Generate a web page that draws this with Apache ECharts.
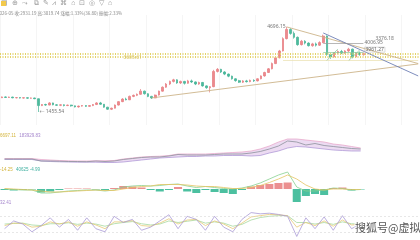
<!DOCTYPE html>
<html><head><meta charset="utf-8">
<script src="https://cdn.jsdelivr.net/npm/echarts@6/dist/echarts.min.js"></script>
<style>html,body{margin:0;padding:0;background:#fff;overflow:hidden}#c{width:420px;height:240px}</style>
</head><body><div id="c"></div>
<script>
// ---------- data ----------
const periods = Array.from({length: 115}, (_, i) => 'P' + (i + 1));
// [open, close, low, high]
const ohlc = [
[2000,2030,1985,2045],[2030,2010,1995,2050],[2010,2025,1990,2040],[2025,1995,1980,2035],[1995,2005,1975,2020],
[2005,1985,1970,2015],[1985,2000,1965,2010],[2000,1980,1960,2010],[1980,1990,1960,2005],[1990,1960,1945,2000],
[1960,1700,1455.54,1970],[1700,1740,1680,1760],[1740,1720,1690,1770],[1720,1800,1710,1830],[1800,1730,1710,1810],
[1730,1710,1690,1750],[1710,1730,1680,1750],[1730,1700,1670,1745],[1700,1720,1680,1735],[1720,1690,1660,1730],
[1690,1650,1630,1700],[1650,1680,1620,1700],[1680,1700,1660,1720],[1700,1670,1650,1715],[1670,1700,1650,1720],
[1700,1740,1680,1760],[1740,1800,1720,1830],[1800,1750,1730,1840],[1750,1640,1620,1760],[1640,1560,1540,1650],
[1560,1600,1530,1620],[1600,1720,1590,1740],[1720,1850,1700,1870],[1850,1950,1830,1980],[1950,1920,1900,2000],
[1920,2050,1910,2080],[2050,2090,2020,2120],[2090,2130,2060,2160],[2130,2250,2110,2330],[2250,2150,2120,2270],
[2150,2050,2020,2170],[2050,1990,1950,2070],[1990,2100,1980,2120],[2100,2250,2080,2270],[2250,2400,2230,2430],
[2400,2520,2380,2560],[2520,2620,2480,2650],[2620,2680,2580,2720],[2680,2560,2530,2700],[2560,2620,2520,2650],
[2620,2550,2500,2640],[2550,2640,2530,2680],[2640,2600,2560,2690],[2600,2520,2480,2620],[2520,2580,2490,2610],
[2580,2450,2420,2600],[2450,2380,2340,2470],[2380,2420,2200,2440],[2420,3000,2400,3060],[3000,3080,2960,3130],
[3080,2980,2940,3100],[2980,2900,2860,3010],[2900,2820,2780,2920],[2820,2720,2690,2840],[2720,2650,2610,2740],
[2650,2590,2560,2680],[2590,2640,2560,2670],[2640,2610,2580,2680],[2610,2660,2590,2690],[2660,2640,2600,2700],
[2640,2720,2620,2740],[2720,2830,2700,2850],[2830,2960,2800,2990],[2960,3100,2940,3130],[3100,3300,3080,3340],
[3300,3520,3280,3560],[3520,3780,3500,3820],[3780,4250,3760,4300],[4250,4600,4220,4696.15],[4600,4450,4400,4650],
[4450,4300,4250,4520],[4300,4020,3980,4330],[4020,4150,3990,4200],[4150,4080,4030,4190],[4080,3980,3950,4110],
[3980,4050,3940,4090],[4050,4000,3950,4100],[4000,4100,3970,4150],[4100,4350,4080,4400],[4350,3650,3600,4370],
[3650,3550,3480,3700],[3550,3700,3520,3740],[3700,3760,3650,3800],[3760,3700,3660,3820],[3700,3780,3670,3810],
[3780,3850,3740,3900],[3850,3550,3500,3870],[3550,3700,3520,3740],[3700,3640,3600,3760],[3640,3680,3600,3720]
];
const subPeriods = Array.from({length: 46}, (_, i) => 'S' + (i + 1));
const obvLine  = [7,7,7,7,5,5,4.8,4.5,4.5,4.3,5,4.5,5,6.5,7.5,8.5,9,9,10,11.5,11,11,11,11.5,12,12,12,13,14.5,17,20,25,24,21,22.5,20.5,19.5,18.5,17.5,17];
const obvUpper = [7.5,7.5,7.5,7.5,6.5,6,5.5,5.2,5,5,5.2,5.2,5.5,7,8,9,9.5,9.8,10.5,12,12,12,12,12.5,13,13.5,14,15,17,20,24,27,27,26,25,24,22,21,19.5,18];
const obvLower = [6.5,6.5,6.5,6.5,5,4.5,4.2,4,3.8,3.8,3.8,3.5,3.5,4,5,6,7,8,8.5,9,9.5,9.5,10,10,10.5,10.5,10.5,10,10.5,13,15,18,19.5,19,18,17,16,15.5,15,15];
const macdDif  = [0,-0.5,-1,-1,-4,-4,-3,-2,-1.5,-1,-1,-2,-1,2,3,3.5,3,3.5,4.5,5,3,1.5,2.5,1.5,0.5,0,1,3,6,10,14,17,2,-2,-2,-1,1,0.5,-1,-0.5];
const macdDea  = [0.5,0,-0.5,-1,-2,-3,-3,-2.5,-2,-1.5,-1,-1.5,-1.5,0,1.5,2.5,3,4.5,4.5,4.5,4,3,2.5,2.5,1.5,0.5,0.5,1.5,3.5,6.5,10,14,10,4,0,-1,0,0,-0.5,-0.5];
const macdHist = [-1,-1.5,-1,-0.5,-3.5,-2.5,-1,0.5,0.5,0.5,-0.5,-1,1,3,2.5,1.5,-1,-2.5,-1,2,-2.5,-4,-1,-3,-4,-5,-1,2.5,4,5,6,6.5,-13,-7,-5,-6,1,1.5,-1.5,-0.5];
const kdjK = [30,55,45,20,40,65,35,60,25,65,30,20,70,50,60,25,35,55,75,30,70,60,25,70,35,20,60,82,78,80,76,70,5,65,30,68,25,72,30,45];
const kdjD = [40,48,47,35,38,52,45,52,38,52,42,30,52,52,56,40,38,48,62,45,58,60,40,55,45,30,48,68,72,76,75,72,35,50,40,55,38,58,42,44];
const kdjJ = [45,47,48,42,40,46,46,49,44,48,45,38,46,50,53,46,42,45,55,50,54,58,48,52,48,38,44,58,66,70,72,72,50,50,45,50,44,52,46,45];

// ---------- chart ----------
const chart = echarts.init(document.getElementById('c'), null, {renderer: 'canvas'});
const bandDiff = obvUpper.map((u, i) => +(u - obvLower[i]).toFixed(2));
const tan = '#cdb48a', blue = '#6f80b6', txt = '#777';
const lbl = (text, pos) => ({show: true, position: pos, formatter: text, fontSize: 5, color: txt, distance: 1});

const subAxis = (gi) => ({type: 'category', gridIndex: gi, data: subPeriods, boundaryGap: true, show: false});
const option = {
  animation: false,
  backgroundColor: '#fff',
  textStyle: {fontFamily: 'Noto Sans, Noto Sans CJK SC, sans-serif'},
  grid: [
    {left: 0, right: 0, top: 15, height: 110},
    {left: 0, right: 0, top: 138, height: 28},
    {left: 0, right: 0, top: 168, height: 37},
    {left: 0, right: 0, top: 207, height: 31}
  ],
  xAxis: [
    {type: 'category', gridIndex: 0, data: periods, boundaryGap: true,
     axisLine: {show: false}, axisTick: {show: false}, axisLabel: {show: false},
     splitLine: {show: true, interval: 9, lineStyle: {color: '#f3f3f3', width: 0.8}}},
    subAxis(1), subAxis(2), subAxis(3)
  ],
  yAxis: [
    {type: 'value', gridIndex: 0, min: 960, max: 5150, show: true,
     axisLine: {show: false}, axisTick: {show: false}, axisLabel: {show: false},
     splitLine: {show: false}},
    {type: 'value', gridIndex: 1, min: 0, max: 28, show: false},
    {type: 'value', gridIndex: 2, min: -16, max: 21, show: false},
    {type: 'value', gridIndex: 3, min: 0, max: 100, show: false}
  ],
  series: [
    {type: 'candlestick', xAxisIndex: 0, yAxisIndex: 0, data: ohlc, barWidth: '58%',
     itemStyle: {color: '#ec8a8d', color0: '#4dba9d', borderColor: '#e67a7e', borderColor0: '#41b194', borderWidth: 0.7},
     markLine: {symbol: 'none', silent: true, animation: false,
       label: {show: false},
       data: [
         {yAxis: 3680, lineStyle: {color: '#e4d36c', width: 2, type: [1, 1.5]}},
         {yAxis: 3560, lineStyle: {color: '#e4d36c', width: 2, type: [1, 1.5]}},
         [{coord: [periods[77], 3420], lineStyle: {color: '#e9dfae', width: 0.7, type: 'solid'}}, {coord: [periods[114], 3420]}],
         [{coord: [periods[41], 1991], lineStyle: {color: tan, width: 0.9, type: 'solid'}}, {coord: [periods[114], 3286]}],
         [{coord: [periods[78], 4696.15], lineStyle: {color: tan, width: 0.9, type: 'solid'}}, {coord: [periods[114], 3300]}],
         [{coord: [periods[88], 4467], lineStyle: {color: blue, width: 0.9, type: 'solid'}}, {coord: [periods[114], 2829]}],
         [{coord: [periods[88], 4087], lineStyle: {color: '#999', width: 0.7, type: 'solid'}}, {coord: [periods[99], 4087]}],
         [{coord: [periods[88], 3744], lineStyle: {color: '#8cc99a', width: 0.7, type: 'solid'}}, {coord: [periods[99], 3744]}],
         [{coord: [periods[89], 3420], lineStyle: {color: '#7fc08f', width: 0.7, type: 'solid'}}, {coord: [periods[92], 3850]}],
         [{coord: [periods[95], 3420], lineStyle: {color: '#7fc08f', width: 0.7, type: 'solid'}}, {coord: [periods[98], 3820]}]
       ]},
     markPoint: {symbol: 'circle', symbolSize: 0.1, silent: true, animation: false,
       data: [
         {coord: [periods[78], 4696.15], label: lbl('4696.15', 'left')},
         {coord: [periods[10], 1455.54], label: lbl('← 1455.54', 'right')},
         {coord: [periods[102], 4240], label: lbl('3376.18', 'right')},
         {coord: [periods[99], 4090], label: lbl('4006.95', 'right')},
         {coord: [periods[99], 3830], label: {show: true, position: 'right', formatter: '3961.27', fontSize: 5, color: '#666', borderColor: '#bbb', borderWidth: 0.5, padding: [0, 1], distance: 1}},
         {coord: [periods[33], 3530], label: {show: true, position: 'right', formatter: '3605.61', fontSize: 5, color: '#d8c25a', distance: 1}}
       ]}
    },
    // OBV panel
    {type: 'line', xAxisIndex: 1, yAxisIndex: 1, data: obvLower, stack: 'band', symbol: 'none',
     lineStyle: {color: '#a88fd2', width: 0.7}, areaStyle: {opacity: 0}},
    {type: 'line', xAxisIndex: 1, yAxisIndex: 1, data: bandDiff, stack: 'band', symbol: 'none',
     lineStyle: {color: '#e6a2c6', width: 0.7}, areaStyle: {color: '#ead7f1', opacity: 0.9}},
    {type: 'line', xAxisIndex: 1, yAxisIndex: 1, data: obvLine, symbol: 'none',
     lineStyle: {color: '#8d929c', width: 0.8}},
    // MACD panel
    {type: 'bar', xAxisIndex: 2, yAxisIndex: 2, data: macdHist, barWidth: '88%',
     itemStyle: {color: p => p.value >= 0 ? '#eb9090' : '#4cc0a0'}},
    {type: 'line', xAxisIndex: 2, yAxisIndex: 2, data: macdDif, symbol: 'none', lineStyle: {color: '#86d18f', width: 0.8}},
    {type: 'line', xAxisIndex: 2, yAxisIndex: 2, data: macdDea, symbol: 'none', lineStyle: {color: '#e5c462', width: 0.8}},
    // KDJ panel
    {type: 'line', xAxisIndex: 3, yAxisIndex: 3, data: kdjJ, symbol: 'none', lineStyle: {color: '#a6d9a0', width: 0.8},
     markLine: {symbol: 'none', silent: true, label: {show: false},
       data: [{yAxis: 70}, {yAxis: 18}], lineStyle: {color: '#d8d8d8', width: 0.6, type: [2, 2]}}},
    {type: 'line', xAxisIndex: 3, yAxisIndex: 3, data: kdjD, symbol: 'none', lineStyle: {color: '#e7c977', width: 0.8}},
    {type: 'line', xAxisIndex: 3, yAxisIndex: 3, data: kdjK, symbol: 'none', lineStyle: {color: '#a99ad6', width: 0.8}}
  ],
  graphic: [
    {type: 'text', left: 1, top: 0, style: {text: '▦  ⊕  ⤳   ⧉  ✎  ⩘  ⌘  ⌂  ⊡  ◎  ▽  ⌂', fontSize: 7, fill: '#9a9a9a'}},
    {type: 'rect', left: 1, top: 1, shape: {width: 5, height: 5}, style: {fill: '#f2c94c'}},
    {type: 'text', left: -3, top: 11, style: {text: '2026-05 收:2931.19 高:3019.74 涨幅:1.33%(36.80) 振幅:2.33%', fontSize: 4.5, fill: '#888', fontFamily: 'Noto Sans CJK SC'}},
    {type: 'text', left: 0, top: 130, style: {rich: {a: {fontSize: 4.5, fill: '#d3b43c'}, b: {fontSize: 4.5, fill: '#a586cc'}}, text: '{a|6697.11} {b|183929.83}'}},
    {type: 'text', left: 0, top: 164, style: {rich: {a: {fontSize: 4.5, fill: '#d3b43c'}, b: {fontSize: 4.5, fill: '#3fb0a0'}}, text: '{a|-14.25} {b|40625 -4.99}'}},
    {type: 'text', left: 0, top: 200, style: {text: '32.41', fontSize: 4.5, fill: '#a586cc'}},
    {type: 'text', left: 354, top: 221, z: 100, style: {text: '搜狐号@虚拟币分析', fontSize: 11, fill: '#555', fontFamily: 'Noto Sans CJK SC', stroke: 'rgba(255,255,255,0.85)', lineWidth: 2}}
  ]
};
chart.setOption(option);
</script></body></html>
